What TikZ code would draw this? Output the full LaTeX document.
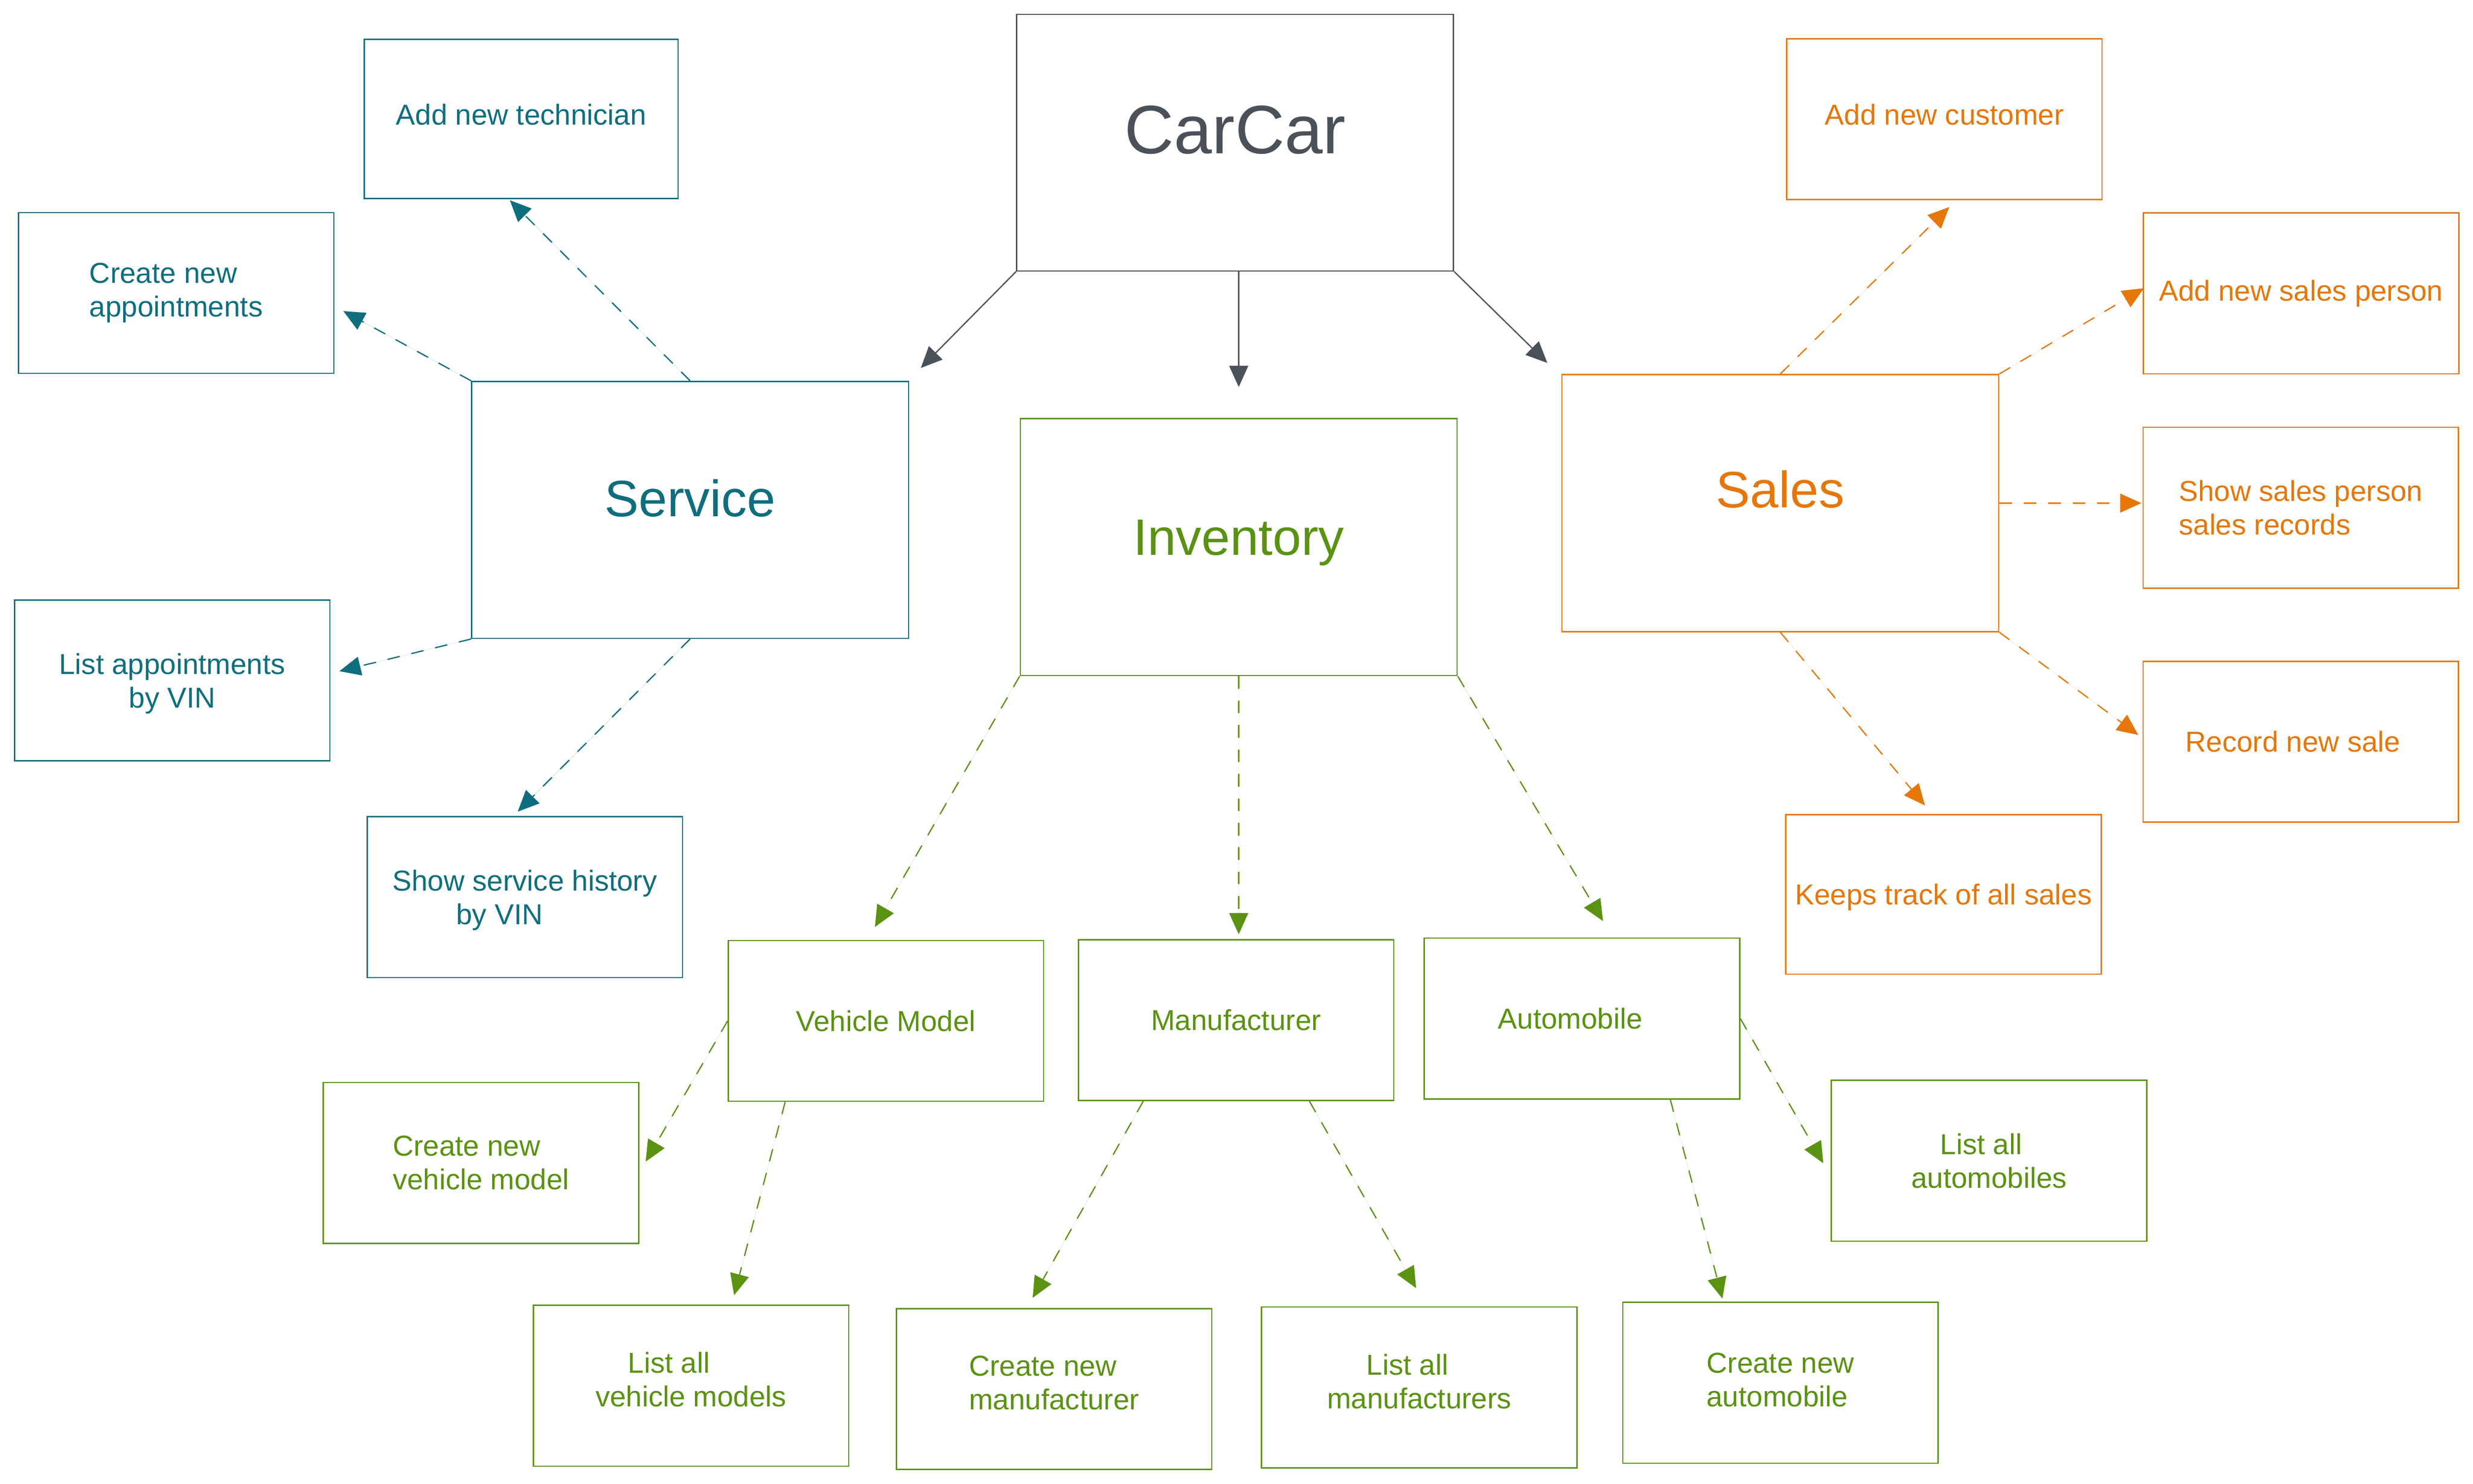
\documentclass[tikz,border=0pt]{standalone}
\usepackage{fontspec}
\setmainfont{Liberation Sans}
\usetikzlibrary{arrows.meta,calc}
\definecolor{cteal}{HTML}{0F6E7E}
\definecolor{cgreen}{HTML}{5A9212}
\definecolor{corange}{HTML}{E5770A}
\definecolor{cgray}{HTML}{4B5159}
\newcommand\fntS{\fontsize{18.3}{21.4}\selectfont}
\newcommand\fntB{\fontsize{32.5}{38}\selectfont}
\newcommand\fntH{\fontsize{43.5}{50}\selectfont}
\tikzset{
  box/.style={draw, line width=0.8pt, inner sep=0pt, minimum width=200pt, minimum height=102pt, font=\fntS},
  bigbox/.style={draw, line width=0.8pt, inner sep=0pt, minimum width=277pt, minimum height=163pt},
  tbox/.style={box, draw=cteal, text=cteal},
  gbox/.style={box, draw=cgreen, text=cgreen},
  obox/.style={box, draw=corange, text=corange},
  conn/.style={line width=0.8pt, -{Triangle[length=13.5pt,width=12pt]}},
  dconn/.style={conn, dash pattern=on 8pt off 7.5pt},
  gline/.style={conn, draw=cgray, fill=cgray},
  tline/.style={dconn, draw=cteal, fill=cteal},
  vline/.style={dconn, draw=cgreen, fill=cgreen},
  oline/.style={dconn, draw=corange, fill=corange},
}
\begin{document}
\begin{tikzpicture}[x=1pt,y=-1pt]
\useasboundingbox (0,0) rectangle (1568.2,941.2);
% main boxes
\node[bigbox, draw=cgray, minimum height=162.7pt, label={[font=\fntH, text=cgray, yshift=8.1pt]center:CarCar}] (carcar) at (783.2,90.5) {};
\node[bigbox, draw=cteal, label={[font=\fntB, text=cteal, yshift=7.5pt]center:Service}] (service) at (437.6,323.4) {};
\node[bigbox, draw=cgreen, label={[font=\fntB, text=cgreen, yshift=2.6pt]center:Inventory}] (inventory) at (785.5,347) {};
\node[bigbox, draw=corange, label={[font=\fntB, text=corange, yshift=8.7pt]center:Sales}] (sales) at (1128.9,319.1) {};
% service children
\node[tbox, minimum width=199pt, minimum height=101pt, text depth=6pt] (tech) at (330.5,75.5) {Add new technician};
\node[tbox, align=left] (appt) at (111.7,185.8) {Create new\\appointments};
\node[tbox, align=center, text depth=-2pt] (listappt) at (109.2,431.6) {List appointments\\by VIN};
\node[tbox, align=center, text depth=-2pt] (history) at (332.8,569) {Show service history\\by VIN\hspace*{32pt}};
% inventory children
\node[gbox] (vehicle) at (561.8,647.5) {Vehicle Model};
\node[gbox] (manuf) at (783.8,647) {Manufacturer};
\node[gbox] (auto) at (1003.2,646) {Automobile\hspace*{15pt}};
\node[gbox, align=left] (cvm) at (305,737.6) {Create new\\vehicle model};
\node[gbox, align=center, text depth=8pt] (lvm) at (438.2,878.9) {List all\hspace*{28pt}\\vehicle models};
\node[gbox, align=left, text depth=8pt] (cm) at (668.4,881) {Create new\\manufacturer};
\node[gbox, align=center, text depth=8pt] (lm) at (900,880) {List all\hspace*{15pt}\\manufacturers};
\node[gbox, align=left, text depth=4pt] (ca) at (1129,877) {Create new\\automobile};
\node[gbox, align=center] (la) at (1261.3,736.2) {List all\hspace*{10pt}\\automobiles};
% sales children
\node[obox, text depth=6pt] (addcust) at (1233,75.6) {Add new customer};
\node[obox] (addsp) at (1459.2,186.1) {Add new sales person};
\node[obox, align=left] (ssr) at (1459,322) {Show sales person\\sales records};
\node[obox] (rns) at (1459,470.5) {Record new sale\hspace*{10pt}};
\node[obox, minimum height=101pt, text depth=0pt] (keeps) at (1232.4,567.3) {Keeps track of all sales};
% carcar connectors
\draw[gline] (carcar.south west) -- ([shift={(7.4,-8.1)}]service.north east);
\draw[gline] (carcar.south -| inventory.north) -- ([shift={(0,-19.6)}]inventory.north);
\draw[gline] (carcar.south east) -- ([shift={(-8.8,-7)}]sales.north west);
% service connectors
\draw[tline] (service.north) -- ([shift={(-7.2,0.6)}]tech.south);
\draw[tline] (service.north west) -- ([shift={(5.6,11.5)}]appt.east);
\draw[tline] (service.south west) -- ([shift={(5.6,-5.9)}]listappt.east);
\draw[tline] (service.south) -- ([shift={(-4.5,-2.8)}]history.north);
% inventory connectors
\draw[vline] (inventory.south west) -- ([shift={(-7,-8.2)}]vehicle.north);
\draw[vline] (inventory.south) -- ($(inventory.south |- manuf.north)+(0,-3)$);
\draw[vline] (inventory.south east) -- ([shift={(13.3,-10.4)}]auto.north);
\draw[vline] (vehicle.west) -- ([shift={(4,-0.8)}]cvm.east);
\draw[vline] ([xshift=36.5pt]vehicle.south west) -- ([shift={(27.3,-6)}]lvm.north);
\draw[vline] ([xshift=41.6pt]manuf.south west) -- ([shift={(-13.6,-6.4)}]cm.north);
\draw[vline] ([xshift=-53.9pt]manuf.south east) -- ([shift={(-2,-11.6)}]lm.north);
\draw[vline] ([xshift=56pt]auto.south) -- ([shift={(-36.8,-2)}]ca.north);
\draw[vline] (auto.east) -- ([shift={(-4.7,1.6)}]la.west);
% sales connectors
\draw[oline] (sales.north) -- ([shift={(3.1,4.3)}]addcust.south);
\draw[oline] (sales.north east) -- ([shift={(0.7,-3.3)}]addsp.west);
\draw[oline] (sales.east) -- ($(sales.east -| ssr.west)+(-0.7,0)$);
\draw[oline] (sales.south east) -- ([shift={(-2.6,-4.3)}]rns.west);
\draw[oline] (sales.south) -- ([shift={(-11.7,-5.5)}]keeps.north);
\end{tikzpicture}
\end{document}
